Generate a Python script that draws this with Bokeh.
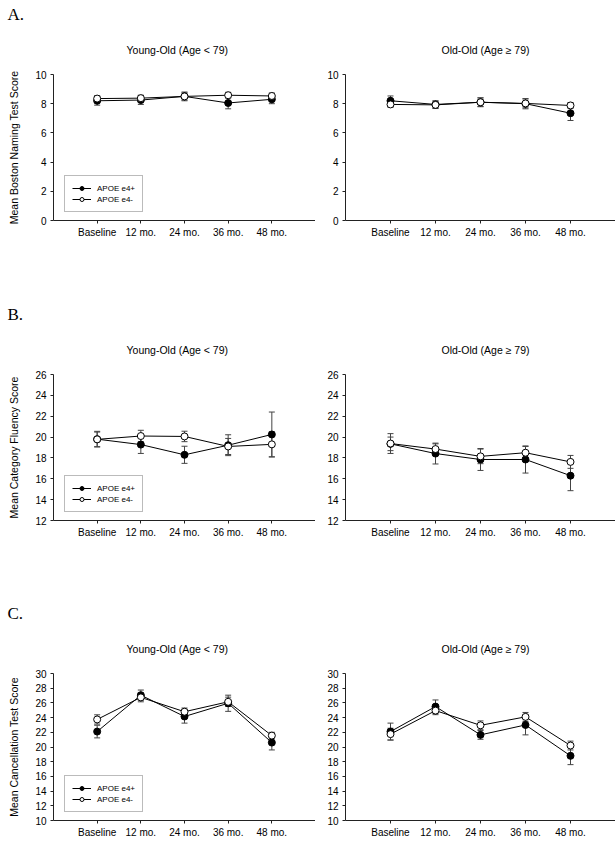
from bokeh.plotting import figure
from bokeh.models import Range1d, FixedTicker, Whisker, TeeHead, ColumnDataSource, Title
from bokeh.layouts import column, row
from bokeh.embed import file_html
from bokeh.resources import INLINE

timepoints = ["Baseline", "12 mo.", "24 mo.", "36 mo.", "48 mo."]
series_names = ["APOE e4+", "APOE e4-"]

# Panel A: Boston Naming Test
a_young_pos = [8.2, 8.25, 8.5, 8.05, 8.3]
a_young_pos_err = [0.3, 0.3, 0.3, 0.4, 0.3]
a_young_neg = [8.35, 8.38, 8.5, 8.58, 8.53]
a_young_neg_err = [0.2, 0.2, 0.25, 0.2, 0.2]
a_old_pos = [8.2, 7.95, 8.1, 8.0, 7.35]
a_old_pos_err = [0.33, 0.25, 0.3, 0.35, 0.5]
a_old_neg = [7.95, 7.92, 8.1, 8.02, 7.88]
a_old_neg_err = [0.2, 0.25, 0.3, 0.3, 0.2]

# Panel B: Category Fluency
b_young_pos = [19.8, 19.28, 18.3, 19.22, 20.25]
b_young_pos_err = [0.75, 0.85, 0.82, 1.0, 2.15]
b_young_neg = [19.78, 20.1, 20.06, 19.1, 19.3]
b_young_neg_err = [0.7, 0.55, 0.5, 0.77, 1.2]
b_old_pos = [19.35, 18.42, 17.85, 17.85, 16.3]
b_old_pos_err = [0.65, 1.0, 1.05, 1.3, 1.44]
b_old_neg = [19.38, 18.85, 18.15, 18.5, 17.62]
b_old_neg_err = [0.95, 0.5, 0.7, 0.6, 0.62]

# Panel C: Cancellation Test
c_young_pos = [22.1, 27.05, 24.15, 25.95, 20.6]
c_young_pos_err = [0.86, 0.7, 0.9, 1.1, 1.0]
c_young_neg = [23.75, 26.75, 24.8, 26.15, 21.55]
c_young_neg_err = [0.63, 0.6, 0.5, 0.63, 0.45]
c_old_pos = [22.1, 25.5, 21.65, 23.0, 18.8]
c_old_pos_err = [1.15, 0.9, 0.6, 1.35, 1.2]
c_old_neg = [21.75, 24.95, 22.95, 24.1, 20.2]
c_old_neg_err = [0.8, 0.55, 0.6, 0.6, 0.6]

a_ticks = [0, 2, 4, 6, 8, 10]
b_ticks = [12, 14, 16, 18, 20, 22, 24, 26]
c_ticks = [10, 12, 14, 16, 18, 20, 22, 24, 26, 28, 30]

title_young = "Young-Old (Age < 79)"
title_old = "Old-Old (Age \u2265 79)"

SANS = "Liberation Sans"
SERIF = "Liberation Serif"


def panel(width, bl, top, frame_h, bottom, ticks, pos, pos_err, neg, neg_err,
          title, title_off, letter=None, ylabel=None, legend=False):
    p = figure(width=width, height=top + frame_h + bottom,
               x_range=Range1d(-1, 5), y_range=Range1d(ticks[0], ticks[-1]),
               output_backend="svg", toolbar_location=None, title=None,
               min_border_left=bl, min_border_right=0,
               min_border_top=top, min_border_bottom=bottom)
    p.outline_line_color = None
    p.grid.visible = False
    p.background_fill_color = "white"
    p.border_fill_color = "white"

    idx = list(range(len(timepoints)))
    p.xaxis.ticker = FixedTicker(ticks=idx)
    p.xaxis.major_label_overrides = {i: t for i, t in enumerate(timepoints)}
    p.yaxis.ticker = FixedTicker(ticks=ticks)
    for ax in (p.xaxis[0], p.yaxis[0]):
        ax.axis_line_color = "#222"
        ax.major_tick_line_color = "#222"
        ax.major_tick_out = 3
        ax.major_tick_in = 0
        ax.minor_tick_line_color = None
        ax.major_label_text_font = SANS
        ax.major_label_text_font_size = "10px"
        ax.major_label_text_color = "black"
    p.xaxis.major_label_standoff = 3
    p.yaxis.major_label_standoff = 4
    if ylabel:
        p.yaxis.axis_label = ylabel
        p.yaxis.axis_label_text_font = SANS
        p.yaxis.axis_label_text_font_size = "10.5px"
        p.yaxis.axis_label_text_font_style = "normal"
        p.yaxis.axis_label_text_color = "black"
        p.yaxis.axis_label_standoff = 12

    ecol = "#444"
    for m, e in ((pos, pos_err), (neg, neg_err)):
        src = ColumnDataSource(dict(x=idx, upper=[a + b for a, b in zip(m, e)],
                                    lower=[a - b for a, b in zip(m, e)]))
        w = Whisker(base="x", upper="upper", lower="lower", source=src,
                    line_color=ecol, line_width=1,
                    upper_head=TeeHead(size=6, line_color=ecol, line_width=1),
                    lower_head=TeeHead(size=6, line_color=ecol, line_width=1))
        p.add_layout(w)

    kw_pos = dict(legend_label=series_names[0]) if legend else {}
    kw_neg = dict(legend_label=series_names[1]) if legend else {}
    p.line(idx, pos, line_color="black", line_width=1, **kw_pos)
    p.scatter(idx, pos, marker="circle", size=7, fill_color="black",
              line_color="black", **kw_pos)
    p.line(idx, neg, line_color="black", line_width=1, **kw_neg)
    p.scatter(idx, neg, marker="circle", size=7, fill_color="white",
              line_color="black", **kw_neg)

    if legend:
        lg = p.legend[0]
        lg.location = (11, 8)
        lg.padding = 7
        lg.spacing = 1
        lg.margin = 0
        lg.glyph_width = 19
        lg.glyph_height = 10
        lg.label_height = 10
        lg.label_standoff = 6
        lg.label_text_font = SANS
        lg.label_text_font_size = "8px"
        lg.label_text_color = "black"
        lg.border_line_color = "#777"
        lg.border_line_width = 1
        lg.background_fill_color = "white"
        lg.background_fill_alpha = 1

    p.add_layout(Title(text=title, align="left", offset=title_off, standoff=37,
                       text_font=SANS, text_font_size="10.5px",
                       text_font_style="normal", text_color="black"), "above")
    if letter:
        p.add_layout(Title(text=letter, align="left", offset=-46, standoff=0,
                           text_font=SERIF, text_font_size="17px",
                           text_font_style="normal", text_color="black"), "above")
    return p


LW, LB = 315, 53
RW, RB = 300, 30

a1 = panel(LW, LB, 74, 146, 42, a_ticks, a_young_pos, a_young_pos_err, a_young_neg,
           a_young_neg_err, title_young, 73, "A.", "Mean Boston Naming Test Score", True)
a2 = panel(RW, RB, 74, 146, 42, a_ticks, a_old_pos, a_old_pos_err, a_old_neg,
           a_old_neg_err, title_old, 96)
b1 = panel(LW, LB, 112, 146, 40, b_ticks, b_young_pos, b_young_pos_err, b_young_neg,
           b_young_neg_err, title_young, 73, "B.", "Mean Category Fluency Score", True)
b2 = panel(RW, RB, 112, 146, 40, b_ticks, b_old_pos, b_old_pos_err, b_old_neg,
           b_old_neg_err, title_old, 96)
c1 = panel(LW, LB, 113, 147, 22, c_ticks, c_young_pos, c_young_pos_err, c_young_neg,
           c_young_neg_err, title_young, 73, "C.", "Mean Cancellation Test Score", True)
c2 = panel(RW, RB, 113, 147, 22, c_ticks, c_old_pos, c_old_pos_err, c_old_neg,
           c_old_neg_err, title_old, 96)

layout = column(row(a1, a2), row(b1, b2), row(c1, c2))

with open("out.html", "w") as f:
    f.write(file_html(layout, INLINE))
